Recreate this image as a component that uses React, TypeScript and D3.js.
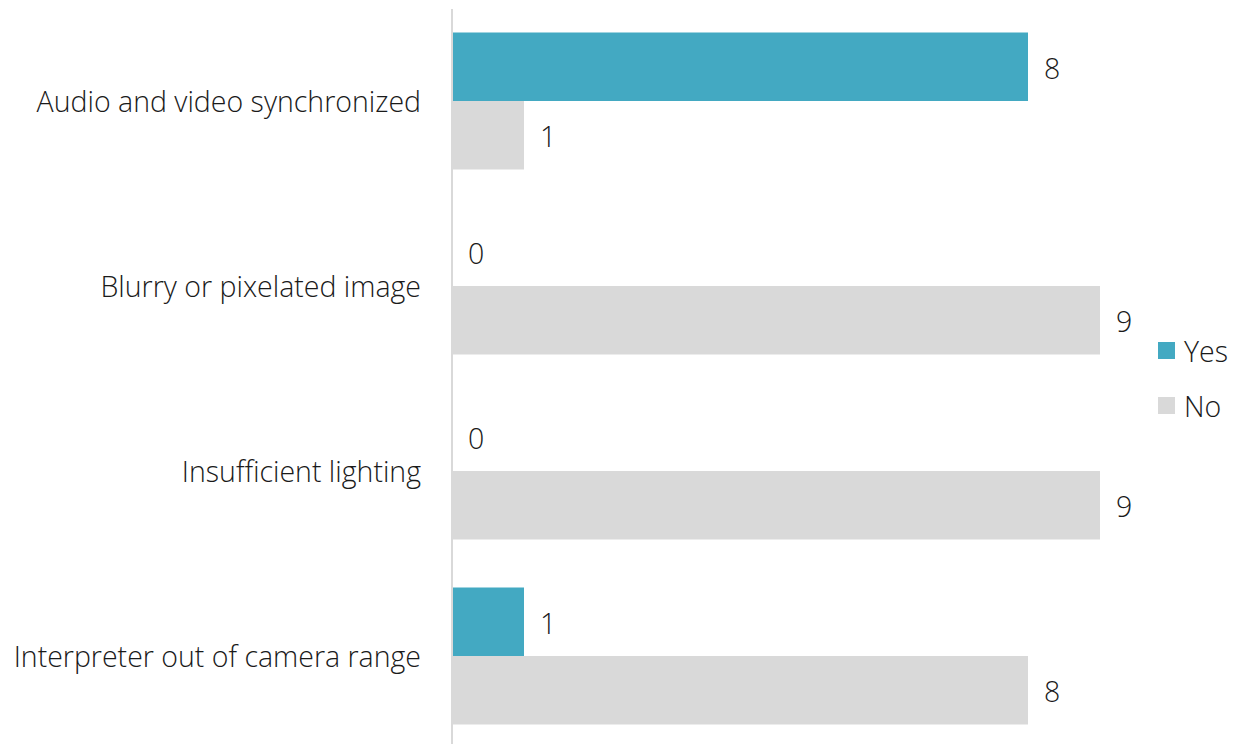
import * as d3 from 'd3';

const categories = [
  'Audio and video synchronized',
  'Blurry or pixelated image',
  'Insufficient lighting',
  'Interpreter out of camera range',
];
const series = ['Yes', 'No'];
const yesValues = [8, 0, 0, 1];
const noValues = [1, 9, 9, 8];
const colors: Record<string, string> = { Yes: '#43a9c2', No: '#d9d9d9' };

const width = 1235;
const height = 744;
const fontFamily = "'Open Sans', 'Noto Sans', sans-serif";
const fontSize = 28.5;

export default function App(): JSX.Element {
  const x = d3.scaleLinear().domain([0, 9]).range([452, 1100]);
  const y = d3
    .scaleBand<string>()
    .domain(categories)
    .range([8.5, 748.5])
    .paddingInner(48 / 185)
    .paddingOuter(24 / 185);
  const inner = d3.scaleBand<string>().domain(series).range([0, y.bandwidth()]);

  const rows = categories.map((c, i) => ({
    category: c,
    values: [
      { key: 'Yes', value: yesValues[i] },
      { key: 'No', value: noValues[i] },
    ],
  }));

  return (
    <svg
      width={width}
      height={height}
      style={{ position: 'absolute', left: 0, top: 0, background: '#fff' }}
      fontFamily={fontFamily}
      fontWeight={300}
    >
      {rows.map((row) => {
        const y0 = y(row.category) ?? 0;
        return (
          <g key={row.category}>
            <text
              x={421}
              y={y0 + y.bandwidth() / 2}
              textAnchor="end"
              dominantBaseline="central"
              fontSize={fontSize}
              fill="#1a1a1a"
            >
              {row.category}
            </text>
            {row.values.map((v) => {
              const by = y0 + (inner(v.key) ?? 0);
              return (
                <g key={v.key}>
                  <rect
                    x={x(0)}
                    y={by}
                    width={x(v.value) - x(0)}
                    height={inner.bandwidth()}
                    fill={colors[v.key]}
                  />
                  <text
                    x={x(v.value) + 16}
                    y={by + inner.bandwidth() / 2 + 1}
                    dominantBaseline="central"
                    fontSize={fontSize}
                    fill="#1a1a1a"
                  >
                    {v.value}
                  </text>
                </g>
              );
            })}
          </g>
        );
      })}
      <line x1={x(0)} x2={x(0)} y1={9} y2={height} stroke="#d9d9d9" strokeWidth={2} />
      {series.map((s, i) => (
        <g key={s} transform={`translate(1158, ${342 + i * 55})`}>
          <rect width={17} height={17} fill={colors[s]} />
          <text x={26} y={9} dominantBaseline="central" fontSize={fontSize} fill="#1a1a1a">
            {s}
          </text>
        </g>
      ))}
    </svg>
  );
}
